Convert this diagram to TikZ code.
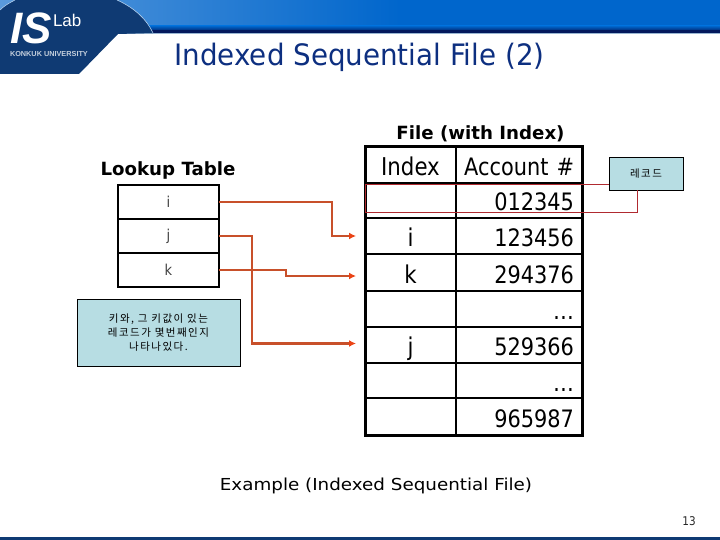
\documentclass[tikz,border=0pt]{standalone}
\usepackage{fontspec}
\setmainfont{DejaVu Sans}
\newfontfamily\tah[FakeStretch=0.87]{DejaVu Sans}
\newfontfamily\tahtitle[FakeStretch=0.94]{DejaVu Sans}
\newfontfamily\verd[FakeStretch=1.11]{DejaVu Sans}
\newfontfamily\kor[LetterSpace=14]{Noto Sans CJK KR}
\newfontfamily\lib{Liberation Sans}
\definecolor{navy}{HTML}{0F3A73}
\definecolor{titleblue}{HTML}{0D2F80}
\definecolor{bandblue}{HTML}{0066CC}
\definecolor{bandlight}{HTML}{5A9ADC}
\definecolor{bandnavy}{HTML}{03185C}
\definecolor{note}{HTML}{B7DDE3}
\definecolor{conn}{HTML}{C8502A}
\definecolor{tip}{HTML}{EA4416}
\definecolor{recred}{HTML}{B02A30}
\usetikzlibrary{arrows.meta}
\tikzset{
  every node/.style={outer sep=0pt},
  lookcell/.style={draw=black,line width=2.6pt,minimum width=101pt,minimum height=34pt,inner sep=0pt,anchor=north west,font=\tah\fontsize{15}{15}\selectfont,text=black!75},
  idxcell/.style={draw=black,line width=1.8pt,minimum width=91pt,inner sep=0pt,anchor=north west,text height=25pt,text depth=4pt,font=\tah\fontsize{24.5}{24.5}\selectfont},
  acccell/.style={draw=black,line width=1.8pt,minimum width=126pt,inner sep=0pt,anchor=north west,text width=110pt,align=left,text height=25pt,text depth=4pt,font=\tah\fontsize{24}{24}\selectfont},
  notebox/.style={draw=black,line width=0.7pt,fill=note,inner sep=0pt},
  link/.style={draw=conn,line width=2.2pt,-{Latex[length=7pt,width=7pt,color=tip]}},
  head/.style={font=\fontsize{18.2}{18.2}\selectfont\bfseries,inner sep=0pt},
  rec/.style={draw=recred,line width=1pt},
  kortext/.style={inner sep=0pt,align=center,text=black,font=\kor\fontsize{10.5}{14}\selectfont},
}
\begin{document}
\begin{tikzpicture}[x=1pt,y=-1pt]
\useasboundingbox (0,0) rectangle (720,540);
% header band
\shade[left color=bandlight,right color=bandblue] (0,0) rectangle (400,28);
\fill[bandblue] (400,0) rectangle (720,28);
\shade[top color=bandblue,bottom color=bandnavy] (0,26) rectangle (720,32);
\fill[bandnavy] (0,30) rectangle (720,33);
\fill[black!30!bandblue!40] (0,33) rectangle (720,34.5);
% logo
\fill[navy] (0,10) .. controls (4,6) and (9,3) .. (15,0) -- (117,0) .. controls (135,8) and (147,20) .. (153,33) -- (118,34) -- (79,74) -- (0,74) -- cycle;
\draw[white!70!bandblue,line width=0.6pt] (0,10) .. controls (4,6) and (9,3) .. (15,0);
\draw[white!70!bandblue,line width=0.6pt] (117,0) .. controls (135,8) and (147,20) .. (153,33);
\node[anchor=base west,inner sep=0pt,text=white,text height=32pt,text depth=0pt] (logois) at (10,44) {\lib\fontsize{44}{44}\selectfont\bfseries\itshape IS};
\node[anchor=base west,inner sep=0pt,text=white] (logolab) at (53,27) {\lib\fontsize{17}{17}\selectfont Lab};
\node[anchor=base west,inner sep=0pt,text=white!75!navy] (logouni) at (10,57) {\lib\fontsize{7.3}{7.3}\selectfont\bfseries KONKUK UNIVERSITY};
% title
\node[anchor=base,inner sep=0pt,text=titleblue] (title) at (359.5,66) {\tahtitle\fontsize{29.5}{29.5}\selectfont Indexed Sequential File (2)};
% headings
\node[head] (lookhead) at (168,170.5) {Lookup Table};
\node[head] (filehead) at (480.5,133.5) {File (with Index)};
% lookup table
\node[lookcell] (li) at (118,185) {i};
\node[lookcell] (lj) at (118,219) {j};
\node[lookcell] (lk) at (118,253) {k};
% note
\node[notebox,minimum width=163pt,minimum height=67pt,anchor=north west] (notea) at (77,299) {};
\node[kortext] (notetext) at (158.5,333) {키와, 그 키값이 있는\\레코드가 몇번째인지\\나타나있다.};
% file table
\foreach \n/\yy/\hh/\aa/\bb in {0/147/36/Index/Account \#,1/183/35/{}/012345,2/218/36/i/123456,3/254/37/k/294376,4/291/36/{}/\ldots,5/327/36/j/529366,6/363/35/{}/\ldots,7/398/37/{}/965987}{
  \node[idxcell,minimum height=\hh pt] (x\n) at (365,\yy) {\aa};
  \node[acccell,minimum height=\hh pt] (y\n) at (456,\yy) {\hfill\bb};
}
\draw[black,line width=3pt] (x0.north west) rectangle (y7.south east);
% record legend
\node[notebox,minimum width=74pt,minimum height=33pt,anchor=north west,font=\kor\fontsize{10.5}{10.5}\selectfont] (recbox) at (609,157) {레코드};
\coordinate (rtl) at (365,185);
\coordinate (rbl) at (365,213);
\coordinate (rbr) at (637,213);
\draw[rec] (recbox.west |- rtl) -- (rtl) -- (rbl) -- (rbr) -- (rbr |- recbox.south);
% connectors
\coordinate (ti) at (356,236);
\coordinate (tk) at (356,276);
\coordinate (tj) at (356,343.5);
\draw[link] (li.east) -- (332,202) -- (332,236) -- (ti);
\draw[link] (lk.east) -- (286,270) -- (286,276) -- (tk);
\draw[link] (lj.east) -- (252,236) -- (252,343.5) -- (tj);
% caption
\node[inner sep=0pt,text=black] (caption) at (376,486) {\verd\fontsize{16.5}{16.5}\selectfont Example (Indexed Sequential File)};
\node[inner sep=0pt,text=black!85] (page) at (689,521) {\tah\fontsize{12}{12}\selectfont 13};
% footer
\fill[navy] (0,537) rectangle (720,540);
\end{tikzpicture}
\end{document}
